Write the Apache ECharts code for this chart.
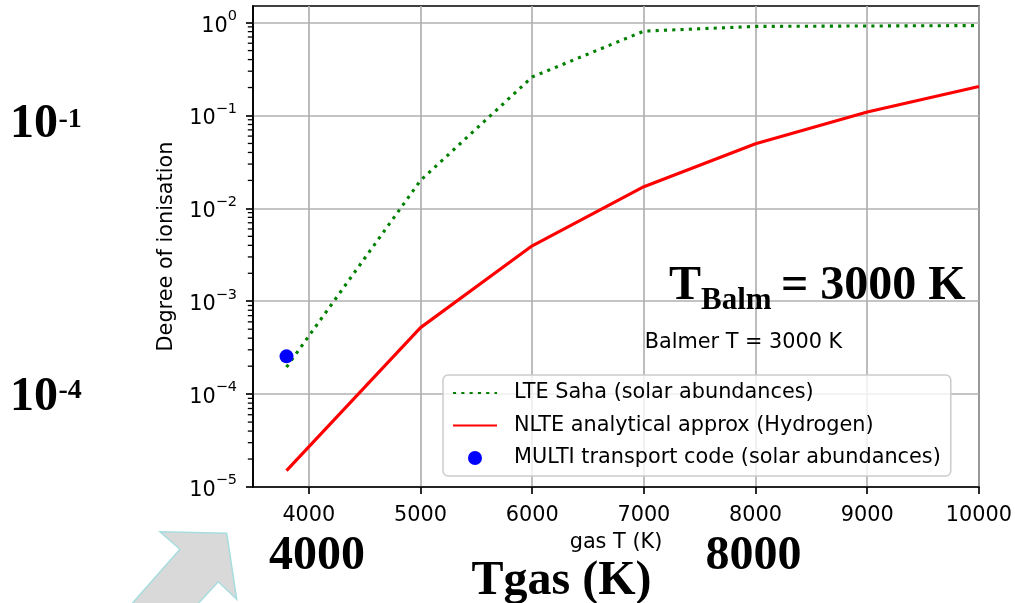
<!DOCTYPE html>
<html>
<head>
<meta charset="utf-8">
<script src="https://cdn.jsdelivr.net/npm/echarts@6/dist/echarts.min.js"></script>
<style>html,body{margin:0;padding:0;background:#fff;}#c{width:1015px;height:603px;}</style>
</head>
<body>
<div id="c"></div>
<script>
const temps = [3800, 5000, 6000, 7000, 8000, 9000, 10000];
const lteSaha = [1.95e-4, 0.020, 0.26, 0.81, 0.91, 0.92, 0.93];
const nlteApprox = [1.5e-5, 5.2e-4, 3.95e-3, 0.0171, 0.0497, 0.109, 0.205];
const multiT = [3800];
const multiVal = [2.55e-4];
const xTicks = [4000, 5000, 6000, 7000, 8000, 9000, 10000];
const yTicks = [1e-5, 1e-4, 1e-3, 1e-2, 1e-1, 1];
const yTickExp = {'0.00001': '−5', '0.0001': '−4', '0.001': '−3', '0.01': '−2', '0.1': '−1', '1': '0'};
const yMinor = [2e-5,3e-5,4e-5,5e-5,6e-5,7e-5,8e-5,9e-5,
                2e-4,3e-4,4e-4,5e-4,6e-4,7e-4,8e-4,9e-4,
                2e-3,3e-3,4e-3,5e-3,6e-3,7e-3,8e-3,9e-3,
                2e-2,3e-2,4e-2,5e-2,6e-2,7e-2,8e-2,9e-2,
                0.2,0.3,0.4,0.5,0.6,0.7,0.8,0.9];
const names = ['LTE Saha (solar abundances)', 'NLTE analytical approx (Hydrogen)', 'MULTI transport code (solar abundances)'];
const X_MIN = 3500, X_MAX = 10000, Y_MIN = 1e-5, Y_MAX = 1.51;

const FS = 20.8;
const SANS = 'DejaVu Sans';

const chart = echarts.init(document.getElementById('c'), null, {renderer: 'canvas'});
const hideSym = {color: 'rgba(0,0,0,0)', opacity: 0, borderWidth: 0};
const option = {
  animation: false,
  backgroundColor: '#fff',
  grid: {left: 253, top: 6, width: 726, height: 481, show: true, borderColor: '#000', borderWidth: 1.67, backgroundColor: 'transparent'},
  xAxis: {
    type: 'value', min: X_MIN, max: X_MAX,
    name: 'gas T (K)', nameLocation: 'middle', nameGap: 45,
    nameTextStyle: {fontFamily: SANS, fontSize: FS, color: '#000'},
    axisLine: {show: true, lineStyle: {color: '#000', width: 1.67}},
    axisTick: {show: true, inside: false, length: 7, customValues: xTicks, lineStyle: {color: '#000', width: 1.67}},
    axisLabel: {customValues: xTicks, margin: 18, fontFamily: SANS, fontSize: FS, color: '#000',
      formatter: function (v) { return String(Math.round(v)); }},
    splitLine: {show: true, lineStyle: {color: '#b0b0b0', width: 1.67}}
  },
  yAxis: {
    type: 'log', logBase: 10, min: Y_MIN, max: Y_MAX,
    name: 'Degree of ionisation', nameLocation: 'middle', nameGap: 76, nameRotate: 90,
    nameTextStyle: {fontFamily: SANS, fontSize: FS, color: '#000'},
    axisLine: {show: true, lineStyle: {color: '#000', width: 1.67}},
    axisTick: {show: true, inside: false, length: 7, customValues: yTicks, lineStyle: {color: '#000', width: 1.67}},
    axisLabel: {
      customValues: yTicks, margin: 16, color: '#000',
      formatter: function (v) {
        const key = String(+v.toPrecision(6));
        return '{b|10}{s|' + (yTickExp[key] || '') + '}';
      },
      rich: {
        b: {fontFamily: SANS, fontSize: FS, lineHeight: 28, verticalAlign: 'bottom', color: '#000'},
        s: {fontFamily: SANS, fontSize: 14.5, lineHeight: 16, verticalAlign: 'top', color: '#000'}
      }
    },
    splitLine: {show: true, lineStyle: {color: '#b0b0b0', width: 1.67}}
  },
  legend: {
    orient: 'vertical', left: 443, top: 375,
    data: [
      {name: names[0], itemStyle: hideSym},
      {name: names[1], itemStyle: hideSym},
      {name: names[2]}
    ],
    padding: [7, 10, 7, 9],
    itemWidth: 44, itemHeight: 14, itemGap: 10.5,
    backgroundColor: 'rgba(255,255,255,0.8)', borderColor: '#cccccc', borderWidth: 1.5, borderRadius: 5,
    textStyle: {fontFamily: SANS, fontSize: FS, lineHeight: 22, color: '#000', padding: [0, 0, 0, 12]}
  },
  series: [
    {
      name: 'minorTicks', type: 'scatter', silent: true, clip: false, z: 3,
      symbol: 'rect', symbolSize: [4.4, 1.3], symbolOffset: [-3.0, 0],
      data: yMinor.map(v => [X_MIN, v]),
      itemStyle: {color: '#000', opacity: 1},
      emphasis: {disabled: true}
    },
    {
      name: names[0], type: 'line', symbol: 'none', z: 4,
      data: temps.map((t, i) => [t, lteSaha[i]]),
      lineStyle: {color: '#008000', width: 3.1, type: [3.1, 5.2], cap: 'butt'},
      itemStyle: {color: '#008000'}
    },
    {
      name: names[1], type: 'line', symbol: 'none', z: 5,
      data: temps.map((t, i) => [t, nlteApprox[i]]),
      lineStyle: {color: '#ff0000', width: 3.1},
      itemStyle: {color: '#ff0000'}
    },
    {
      name: names[2], type: 'scatter', symbol: 'circle', symbolSize: 14, z: 6,
      data: multiT.map((t, i) => [t, multiVal[i]]),
      itemStyle: {color: '#0000ff', opacity: 1}
    }
  ],
  graphic: [
    {type: 'polygon', z: 100,
     shape: {points: [[160, 531.7], [226.7, 533.3], [236.7, 599.3], [218.3, 581.7], [195, 607], [129, 607], [180, 549.3]]},
     style: {fill: '#d9d9d9', stroke: '#a8dde0', lineWidth: 1.5}},
    {type: 'text', x: 10, y: 124.7, z: 100, style: {text: '10', font: 'bold 48px "Liberation Serif"', fill: '#000', verticalAlign: 'middle'}},
    {type: 'text', x: 58.5, y: 119.5, z: 100, style: {text: '-1', font: 'bold 28px "Liberation Serif"', fill: '#000', verticalAlign: 'middle'}},
    {type: 'text', x: 10, y: 398, z: 100, style: {text: '10', font: 'bold 48px "Liberation Serif"', fill: '#000', verticalAlign: 'middle'}},
    {type: 'text', x: 58.5, y: 391, z: 100, style: {text: '-4', font: 'bold 28px "Liberation Serif"', fill: '#000', verticalAlign: 'middle'}},
    {type: 'text', x: 269, y: 557, z: 100, style: {text: '4000', font: 'bold 48px "Liberation Serif"', fill: '#000', verticalAlign: 'middle'}},
    {type: 'text', x: 705.5, y: 556.5, z: 100, style: {text: '8000', font: 'bold 48px "Liberation Serif"', fill: '#000', verticalAlign: 'middle'}},
    {type: 'text', x: 471.5, y: 582, z: 100, style: {text: 'Tgas (K)', font: 'bold 48px "Liberation Serif"', fill: '#000', verticalAlign: 'middle'}},
    {type: 'text', x: 669, y: 287, z: 100, style: {text: 'T', font: 'bold 48px "Liberation Serif"', fill: '#000', verticalAlign: 'middle'}},
    {type: 'text', x: 701, y: 301, z: 100, style: {text: 'Balm', font: 'bold 31px "Liberation Serif"', fill: '#000', verticalAlign: 'middle'}},
    {type: 'text', x: 781, y: 287, z: 100, style: {text: '= 3000 K', font: 'bold 48px "Liberation Serif"', fill: '#000', verticalAlign: 'middle'}},
    {type: 'text', x: 644.7, y: 342.5, z: 100, style: {text: 'Balmer T = 3000 K', font: '20.8px "DejaVu Sans"', fill: '#000', verticalAlign: 'middle'}}
  ]
};
chart.setOption(option);
</script>
</body>
</html>
